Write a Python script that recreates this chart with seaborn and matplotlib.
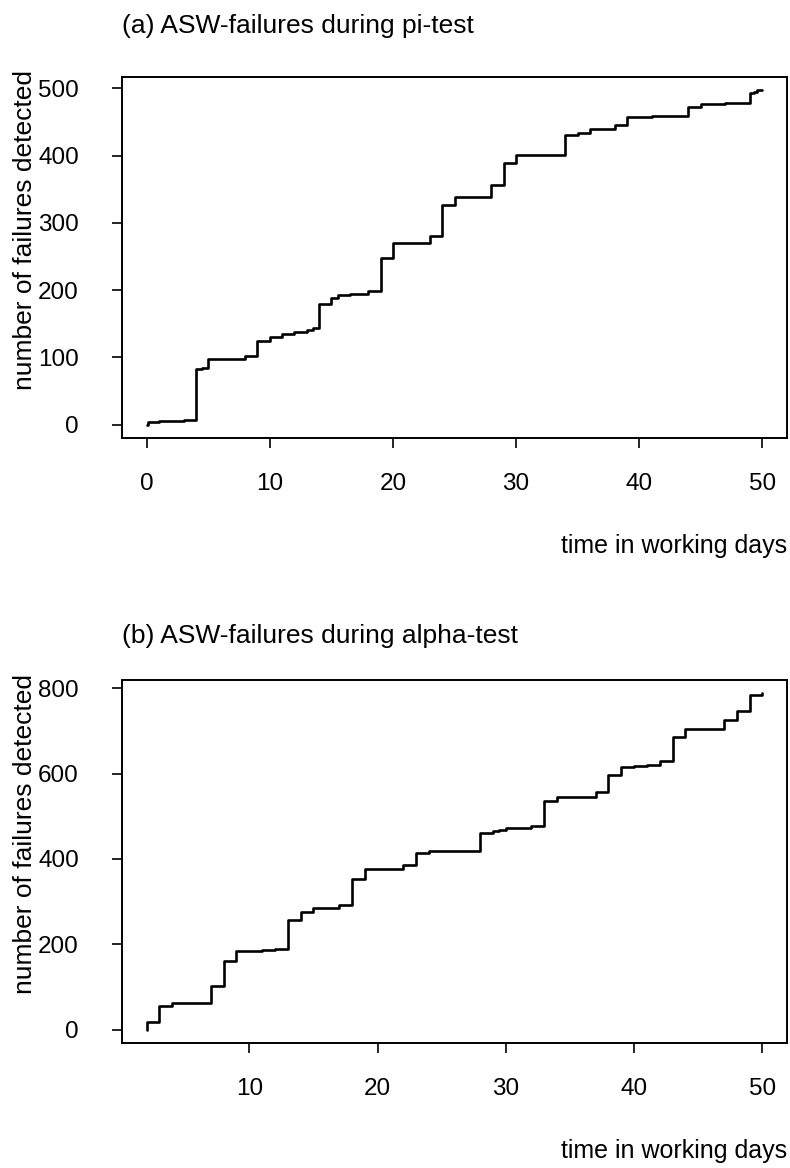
import matplotlib
matplotlib.use("Agg")
import matplotlib.pyplot as plt
import seaborn as sns

# ---- data ----
pi_days = [0, 0.1, 1, 2, 3, 4, 4.5, 5, 8, 9, 10, 11, 12, 13, 13.5, 14, 15, 15.5, 16.5,
           18, 19, 20, 23, 24, 25, 28, 29, 30, 34, 35, 36, 38, 39, 41, 44, 45, 47,
           49, 49.3, 49.6, 50]
pi_failures = [0, 4, 5, 6, 7, 82, 84, 98, 102, 125, 130, 135, 138, 141, 143, 179, 189, 192, 194,
               198, 248, 270, 280, 326, 338, 357, 389, 401, 431, 434, 439, 445, 457, 459, 473, 477, 478,
               493, 495, 497, 497]

alpha_days = [2, 2, 3, 4, 7, 8, 9, 11, 12, 13, 14, 15, 17, 18, 19, 22, 23, 24, 28, 29, 29.5,
              30, 32, 33, 34, 37, 38, 39, 40, 41, 42, 43, 44, 47, 48, 49, 50]
alpha_failures = [0, 17, 56, 63, 102, 160, 184, 186, 189, 256, 276, 284, 291, 352, 377, 385, 414,
                  419, 460, 466, 469, 472, 478, 535, 545, 557, 596, 615, 618, 620, 629, 686, 704,
                  725, 747, 784, 788]

titles = ["(a) ASW-failures during pi-test", "(b) ASW-failures during alpha-test"]
x_label = "time in working days"
y_label = "number of failures detected"
pi_xticks = [0, 10, 20, 30, 40, 50]
pi_yticks = [0, 100, 200, 300, 400, 500]
alpha_xticks = [10, 20, 30, 40, 50]
alpha_yticks = [0, 200, 400, 600, 800]

# ---- style ----
sns.set_style("ticks")
plt.rcParams["font.family"] = ["Liberation Sans", "DejaVu Sans"]
plt.rcParams["axes.edgecolor"] = "black"
plt.rcParams["text.color"] = "black"
plt.rcParams["axes.labelcolor"] = "black"
plt.rcParams["xtick.color"] = "black"
plt.rcParams["ytick.color"] = "black"

W, H = 790, 1168
fig = plt.figure(figsize=(W / 100, H / 100), dpi=100)
fig.patch.set_facecolor("white")
ax_a = fig.add_axes([122 / W, 1 - 438 / H, 665 / W, 361 / H])
ax_b = fig.add_axes([122 / W, 1 - 1043 / H, 665 / W, 363 / H])

panels = [
    (ax_a, pi_days, pi_failures, pi_xticks, pi_yticks, titles[0], 32),
    (ax_b, alpha_days, alpha_failures, alpha_xticks, alpha_yticks, titles[1], 27),
]

for ax, days, fails, xt, yt, title, tpad in panels:
    sns.lineplot(x=days, y=fails, ax=ax, estimator=None, sort=False,
                 drawstyle="steps-post", color="black", linewidth=1.9)
    ax.margins(x=0.04, y=0.04)
    ax.set_facecolor("white")
    ax.set_xticks(xt)
    ax.set_yticks(yt)
    ax.tick_params(axis="both", direction="out", length=7, width=1.2, labelsize=17.5)
    ax.tick_params(axis="y", pad=24)
    ax.tick_params(axis="x", pad=18)
    for s in ax.spines.values():
        s.set_visible(True)
        s.set_linewidth(1.4)
        s.set_color("black")
    ax.set_title(title, loc="left", fontsize=19, pad=tpad)
    ax.set_xlabel(x_label, loc="right", fontsize=18, labelpad=28)
    ax.set_ylabel(y_label, fontsize=19)
    ax.yaxis.set_label_coords(-0.128, 0.575)

fig.savefig("out.png", dpi=100, facecolor="white")
